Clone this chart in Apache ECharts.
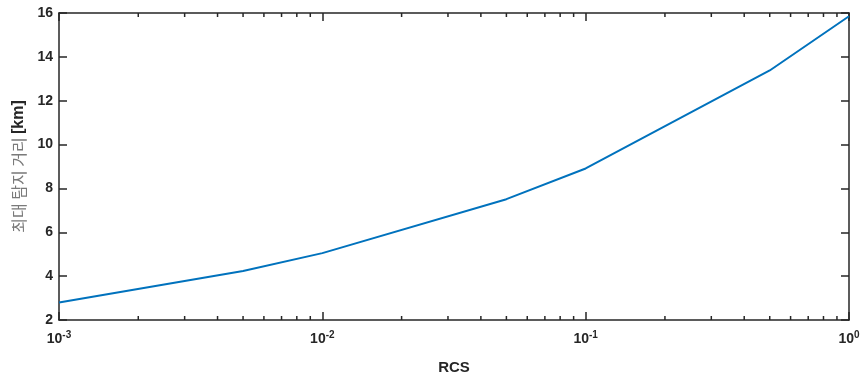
<!DOCTYPE html>
<html>
<head>
<meta charset="utf-8">
<script src="https://cdn.jsdelivr.net/npm/echarts@6/dist/echarts.min.js"></script>
<style>
  html, body { margin: 0; padding: 0; background: #fff; }
  #chart { width: 865px; height: 380px; }
</style>
</head>
<body>
<div id="chart"></div>
<script>
// RCS 값 (log 축)
const rcs = [0.001, 0.005, 0.01, 0.05, 0.1, 0.5, 1];
// 최대 탐지 거리 [km]
const range = [2.8, 4.23, 5.05, 7.51, 8.91, 13.38, 15.85];

const yTicks = [2, 4, 6, 8, 10, 12, 14, 16];

// minor ticks 2..9 x 10^k
const minorTicks = [];
for (let k = -3; k < 0; k++) {
  for (let m = 2; m <= 9; m++) minorTicks.push(m * Math.pow(10, k));
}

const axisColor = '#262626';
const fontFam = '"Liberation Sans", Arial, sans-serif';

const chart = echarts.init(document.getElementById('chart'));

const option = {
  animation: false,
  grid: { left: 59, right: 16, top: 13, bottom: 59 },
  xAxis: [
    {
      type: 'log', logBase: 10, min: 0.001, max: 1,
      name: 'RCS', nameLocation: 'middle', nameGap: 40,
      nameTextStyle: { fontFamily: fontFam, fontWeight: 'bold', fontSize: 15, color: axisColor },
      axisLine: { lineStyle: { color: axisColor, width: 1.5 } },
      axisTick: { inside: true, length: 8, lineStyle: { color: axisColor, width: 1.5 } },
      splitLine: { show: false },
      axisLabel: {
        margin: 10,
        formatter: function (v) {
          const e = Math.round(Math.log10(v));
          return '{b|10}{s|' + e + '}';
        },
        rich: {
          b: { fontFamily: fontFam, fontWeight: 'bold', fontSize: 14, color: axisColor },
          s: { fontFamily: fontFam, fontWeight: 'bold', fontSize: 10, color: axisColor, padding: [0, 0, 9, 0] }
        }
      }
    },
    {
      type: 'log', logBase: 10, min: 0.001, max: 1, position: 'top',
      axisLine: { lineStyle: { color: axisColor, width: 1.5 } },
      axisTick: { inside: true, length: 8, lineStyle: { color: axisColor, width: 1.5 } },
      axisLabel: { show: false },
      splitLine: { show: false }
    }
  ],
  yAxis: [
    {
      type: 'value', min: 2, max: 16, interval: 2,
      name: '{g|최대 탐지 거리} {k|[km]}', nameLocation: 'middle', nameGap: 30,
      nameTextStyle: {
        rich: {
          g: { fontFamily: '"Noto Sans CJK KR", sans-serif', fontSize: 16, color: '#7a7a7a' },
          k: { fontFamily: fontFam, fontWeight: 'bold', fontSize: 16, color: axisColor }
        }
      },
      axisLine: { show: true, lineStyle: { color: axisColor, width: 1.5 } },
      axisTick: { inside: true, length: 8, lineStyle: { color: axisColor, width: 1.5 } },
      splitLine: { show: false },
      axisLabel: {
        margin: 6,
        fontFamily: fontFam, fontWeight: 'bold', fontSize: 14, color: axisColor,
        formatter: function (v) { return yTicks.indexOf(v) >= 0 ? String(v) : ''; }
      }
    },
    {
      type: 'value', min: 2, max: 16, interval: 2, position: 'right',
      axisLine: { show: true, lineStyle: { color: axisColor, width: 1.5 } },
      axisTick: { inside: true, length: 8, lineStyle: { color: axisColor, width: 1.5 } },
      axisLabel: { show: false },
      splitLine: { show: false }
    }
  ],
  series: [
    {
      type: 'line',
      data: rcs.map((x, i) => [x, range[i]]),
      showSymbol: false,
      lineStyle: { color: '#0072BD', width: 2 },
      z: 3
    },
    {
      // log 축 보조 눈금
      type: 'custom',
      data: minorTicks.map(v => [v]),
      silent: true,
      z: 4,
      renderItem: function (params, api) {
        const v = api.value(0);
        const b = api.coord([v, 2]);
        const t = api.coord([v, 16]);
        const st = { stroke: axisColor, lineWidth: 1.5 };
        return {
          type: 'group',
          children: [
            { type: 'line', shape: { x1: b[0], y1: b[1], x2: b[0], y2: b[1] - 4 }, style: st },
            { type: 'line', shape: { x1: t[0], y1: t[1], x2: t[0], y2: t[1] + 4 }, style: st }
          ]
        };
      }
    }
  ]
};

chart.setOption(option);
</script>
</body>
</html>
